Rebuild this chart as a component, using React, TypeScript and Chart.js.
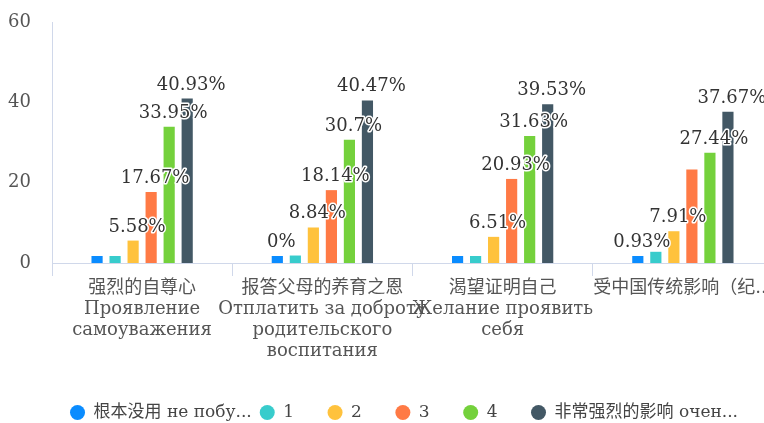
import React, { useEffect, useRef } from 'react';
import { Chart, registerables } from 'chart.js';

Chart.register(...registerables);

// ---- data ----
const categories: string[][] = [
  ['强烈的自尊心', 'Проявление', 'самоуважения'],
  ['报答父母的养育之恩', 'Отплатить за доброту', 'родительского', 'воспитания'],
  ['渴望证明自己', 'Желание проявить', 'себя'],
  ['受中国传统影响（纪...'],
];
const seriesNames = ['根本没用 не побу...', '1', '2', '3', '4', '非常强烈的影响 очен...'];
const series0 = [0.93, 0, 0.47, 0.93];
const series1 = [0.93, 1.86, 0.93, 2.79];
const series2 = [5.58, 8.84, 6.51, 7.91];
const series3 = [17.67, 18.14, 20.93, 23.26];
const series4 = [33.95, 30.7, 31.63, 27.44];
const series5 = [40.93, 40.47, 39.53, 37.67];
const yMin = 0;
const yMax = 60;
const yStep = 20;
// [seriesIndex, categoryIndex] pairs whose value labels are hidden (overlap in original)
const hiddenLabels: [number, number][] = [
  [0, 0], [1, 0], [1, 1], [0, 2], [1, 2], [1, 3], [3, 3],
];

const colors = ['#0a8cff', '#38cccc', '#ffc23d', '#ff7a45', '#74d13c', '#435865'];
const SERIF = '"DejaVu Serif", "Noto Sans CJK SC", serif';

const valueLabelPlugin = {
  id: 'valueLabels',
  afterDatasetsDraw(chart: any) {
    const ctx = chart.ctx;
    const hidden = new Set(hiddenLabels.map(([s, c]) => `${s}:${c}`));
    ctx.save();
    ctx.font = `18px ${SERIF}`;
    ctx.textAlign = 'center';
    ctx.textBaseline = 'alphabetic';
    ctx.lineJoin = 'round';
    ctx.lineWidth = 3;
    ctx.strokeStyle = '#ffffff';
    ctx.fillStyle = '#333333';
    chart.data.datasets.forEach((ds: any, di: number) => {
      const meta = chart.getDatasetMeta(di);
      meta.data.forEach((bar: any, i: number) => {
        if (hidden.has(`${di}:${i}`)) return;
        const text = `${ds.data[i]}%`;
        const x = bar.x + 4;
        const y = bar.y - 9;
        ctx.strokeText(text, x, y);
        ctx.fillText(text, x, y);
      });
    });
    ctx.restore();
  },
};

// centre the legend on the whole canvas rather than between the layout paddings
const legendShiftPlugin = {
  id: 'legendShift',
  afterLayout(chart: any) {
    const lg = chart.legend;
    if (!lg) return;
    const shift = (chart.width - (lg.left + lg.right)) / 2;
    lg.left += shift;
    lg.right += shift;
  },
};

export default function App() {
  const canvasRef = useRef<HTMLCanvasElement | null>(null);

  useEffect(() => {
    if (!canvasRef.current) return;
    const allSeries = [series0, series1, series2, series3, series4, series5];
    const chart = new Chart(canvasRef.current, {
      type: 'bar',
      data: {
        labels: categories,
        datasets: allSeries.map((d, i) => ({
          label: seriesNames[i],
          data: d,
          backgroundColor: colors[i],
          borderWidth: 0,
          minBarLength: 7,
          categoryPercentage: 0.6,
          barPercentage: 0.62,
        })),
      },
      options: {
        responsive: false,
        animation: false,
        layout: { padding: { left: 8, top: 22, right: 35, bottom: 0 } },
        plugins: {
          tooltip: { enabled: false },
          legend: {
            position: 'bottom',
            labels: {
              usePointStyle: true,
              pointStyle: 'circle',
              boxHeight: 10.5,
              pointStyleWidth: 15,
              padding: 8,
              color: '#444',
              font: { size: 17, family: SERIF },
              generateLabels: (ch: any) =>
                Chart.defaults.plugins.legend.labels.generateLabels(ch).map((l: any) => ({
                  ...l,
                  text: l.text.length < 3 ? l.text + '\u2002\u2002\u2002' : l.text,
                })),
            },
          },
        },
        scales: {
          x: {
            grid: {
              drawOnChartArea: false,
              drawTicks: true,
              tickLength: 13,
              color: '#d0d8ea',
            },
            border: { display: true, color: '#d0d8ea' },
            ticks: {
              color: '#555',
              padding: 2,
              maxRotation: 0,
              autoSkip: false,
              font: { size: 18, family: SERIF, lineHeight: 1.17 },
            },
            afterFit: (scale: any) => {
              scale.height = 133;
              scale.paddingLeft = 0;
              scale.paddingRight = 0;
            },
          },
          y: {
            min: yMin,
            max: yMax,
            grid: { display: false, drawTicks: false },
            border: { display: true, color: '#d0d8ea' },
            ticks: {
              stepSize: yStep,
              color: '#555',
              padding: 21,
              font: { size: 18, family: SERIF },
            },
            afterFit: (scale: any) => {
              scale.width = 44;
              scale.paddingTop = 0;
              scale.paddingBottom = 0;
            },
          },
        },
      },
      plugins: [valueLabelPlugin, legendShiftPlugin],
    } as any);
    return () => chart.destroy();
  }, []);

  return (
    <div
      style={{
        position: 'fixed',
        left: 0,
        top: 0,
        width: 764,
        height: 423,
        overflow: 'hidden',
        background: '#fff',
      }}
    >
      <div style={{ width: 808, height: 431 }}>
        <canvas ref={canvasRef} width={808} height={431} style={{ width: 808, height: 431, display: 'block' }} />
      </div>
    </div>
  );
}
